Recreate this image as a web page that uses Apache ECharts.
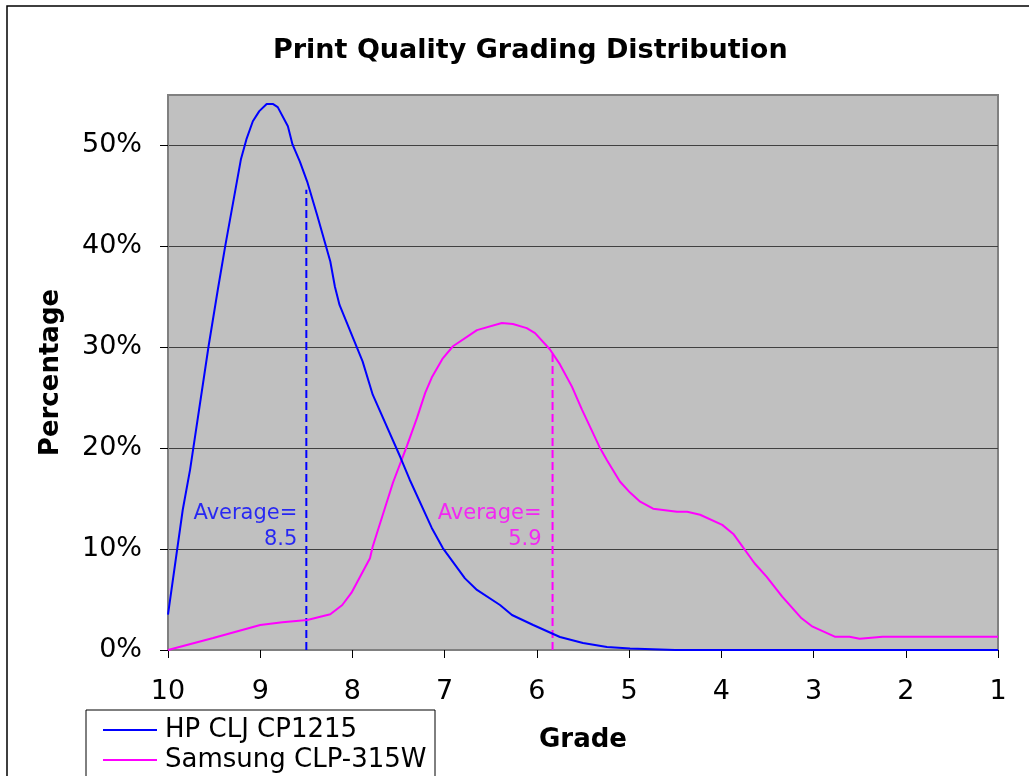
<!DOCTYPE html>
<html>
<head>
<meta charset="utf-8">
<script src="https://cdn.jsdelivr.net/npm/echarts@6/dist/echarts.min.js"></script>
<style>html,body{margin:0;padding:0;background:#fff}#c{width:1029px;height:776px}</style>
</head>
<body>
<div id="c"></div>
<script>
var titleText = 'Print Quality Grading Distribution';
var seriesNames = ['HP CLJ CP1215', 'Samsung CLP-315W'];
var yTicks = [0, 10, 20, 30, 40, 50];
var xTicks = [10, 9, 8, 7, 6, 5, 4, 3, 2, 1];

var hpGrade = [10, 9.84, 9.76, 9.56, 9.46, 9.38, 9.21, 9.15, 9.08, 9.01, 8.93, 8.86, 8.81, 8.70, 8.65, 8.57, 8.49, 8.38, 8.24, 8.19, 8.14, 7.89, 7.78, 7.48, 7.38, 7.14, 7.02, 6.78, 6.65, 6.40, 6.27, 6.04, 5.75, 5.50, 5.24, 4.99, 4.5, 1];
var hpValue = [3.5, 13.9, 17.9, 30.1, 35.7, 40.0, 48.6, 50.6, 52.4, 53.4, 54.1, 54.1, 53.8, 51.9, 50.1, 48.4, 46.4, 43.0, 38.5, 36.0, 34.2, 28.6, 25.3, 19.1, 16.9, 12.1, 10.1, 7.1, 5.95, 4.46, 3.47, 2.48, 1.29, 0.69, 0.3, 0.15, 0, 0];

var ssGrade = [10, 9.51, 9.00, 8.76, 8.49, 8.24, 8.11, 8.01, 7.81, 7.78, 7.56, 7.41, 7.30, 7.21, 7.14, 7.02, 6.91, 6.65, 6.38, 6.26, 6.11, 6.02, 5.86, 5.75, 5.62, 5.51, 5.32, 5.24, 5.10, 4.99, 4.88, 4.74, 4.48, 4.37, 4.23, 3.99, 3.87, 3.64, 3.51, 3.34, 3.13, 3.01, 2.77, 2.61, 2.50, 2.25, 1];
var ssValue = [0, 1.19, 2.48, 2.75, 2.98, 3.54, 4.46, 5.68, 9.1, 10.25, 16.6, 20.2, 23.0, 25.5, 27.0, 28.9, 30.1, 31.7, 32.4, 32.3, 31.9, 31.4, 29.8, 28.3, 26.1, 23.8, 20.1, 18.8, 16.7, 15.6, 14.7, 14.0, 13.7, 13.7, 13.4, 12.4, 11.5, 8.6, 7.27, 5.29, 3.14, 2.31, 1.32, 1.32, 1.12, 1.32, 1.32];

var avgGrade = [8.5, 5.83];
var avgTop = [45.6, 29.5];
var avgLabel = ['8.5', '5.9'];
var avgLabelY = 12.2;

var colors = ['#0000FF', '#FF00FF'];
var FONT = 'DejaVu Sans, Verdana, sans-serif';

function zip(a, b) { return a.map(function (v, i) { return [v, b[i]]; }); }

var series = [
  { name: seriesNames[1], type: 'line', data: zip(ssGrade, ssValue), symbol: 'none', lineStyle: { color: colors[1], width: 2 }, itemStyle: { color: colors[1] }, z: 3 },
  { name: seriesNames[0], type: 'line', data: zip(hpGrade, hpValue), symbol: 'none', lineStyle: { color: colors[0], width: 2 }, itemStyle: { color: colors[0] }, z: 4 }
];
for (var i = 0; i < 2; i++) {
  series.push({
    name: 'avg' + i, type: 'line', symbol: 'none',
    data: [[avgGrade[i], 0], [avgGrade[i], avgTop[i]]],
    lineStyle: { color: colors[i], width: 2, type: [8, 4] }, z: 2
  });
  series.push({
    name: 'avgLabel' + i, type: 'scatter', symbolSize: 0,
    data: [[avgGrade[i], avgLabelY]],
    label: {
      show: true, position: 'left', distance: i === 0 ? 9 : 11, align: 'right',
      formatter: 'Average=\n' + avgLabel[i], color: colors[i],
      fontFamily: FONT, fontSize: 21, lineHeight: 26
    }, z: 5
  });
}

function legendFor(idx, top) {
  return {
    data: [seriesNames[idx]], orient: 'horizontal', left: 103, top: top,
    itemWidth: 54, itemHeight: 2, icon: 'rect', padding: 0, z: 20,
    textStyle: { fontFamily: FONT, fontSize: 26, color: '#000', padding: [0, 0, 0, 3] }
  };
}

var chart = echarts.init(document.getElementById('c'), null, { renderer: 'canvas' });
chart.setOption({
  animation: false,
  backgroundColor: '#ffffff',
  title: {
    text: titleText, left: 268, top: 32,
    textStyle: { fontFamily: FONT, fontSize: 27, fontWeight: 'bold', color: '#000' }
  },
  legend: [legendFor(0, 717), legendFor(1, 747)],
  grid: {
    left: 168, top: 95, width: 830, height: 555,
    show: true, backgroundColor: '#C0C0C0', borderColor: '#808080', borderWidth: 2
  },
  xAxis: {
    type: 'value', min: 1, max: 10, interval: 1, inverse: true,
    name: 'Grade', nameLocation: 'middle', nameGap: 77,
    nameTextStyle: { fontFamily: FONT, fontSize: 26, fontWeight: 'bold', color: '#000' },
    axisLine: { show: true, lineStyle: { color: '#808080', width: 2 } },
    axisTick: { show: true, length: 8, lineStyle: { color: '#000', width: 1 } },
    axisLabel: { fontFamily: FONT, fontSize: 27, color: '#000', margin: 28 },
    splitLine: { show: false }
  },
  yAxis: {
    type: 'value', min: 0, max: 55, interval: 10,
    name: 'Percentage', nameLocation: 'middle', nameGap: 104,
    nameTextStyle: { fontFamily: FONT, fontSize: 26, fontWeight: 'bold', color: '#000' },
    axisLine: { show: true, lineStyle: { color: '#808080', width: 2 } },
    axisTick: { show: true, length: 8, lineStyle: { color: '#000', width: 1 }, customValues: yTicks },
    axisLabel: { fontFamily: FONT, fontSize: 27, color: '#000', margin: 26, customValues: yTicks, formatter: '{value}%' },
    splitLine: { show: true, lineStyle: { color: '#404040', width: 1 } }
  },
  graphic: [{
    type: 'rect', z: -10, silent: true,
    shape: { x: 7, y: 6, width: 1100, height: 900 },
    style: { fill: 'none', stroke: '#000', lineWidth: 1.5 }
  }, {
    type: 'rect', z: 10, silent: true,
    shape: { x: 86, y: 710, width: 349, height: 120 },
    style: { fill: '#ffffff', stroke: '#000', lineWidth: 1 }
  }],
  series: series
});
</script>
</body>
</html>
